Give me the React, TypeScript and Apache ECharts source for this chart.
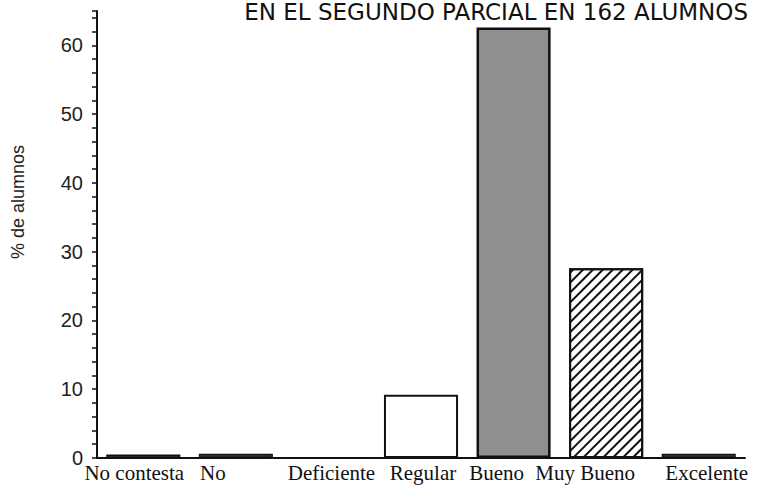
import React, { useEffect, useRef } from "react";
import * as echarts from "echarts";

const categories = ["No contesta", "No", "Deficiente", "Regular", "Bueno", "Muy Bueno", "Excelente"];
const values = [0.5, 0.6, 0, 9.2, 62.6, 27.6, 0.6];
const titleText = "EN EL SEGUNDO PARCIAL EN 162 ALUMNOS";
const yName = "% de alumnos";

// label horizontal shift (px, negative = left) to mimic the original placement
const labelShift = [-9, -23, 3, 2, -17, -21, 8];

const small = { color: "#3a3a3a", borderColor: "#111", borderWidth: 1.5 };
const barStyles = [
  small,
  small,
  small,
  { color: "#ffffff", borderColor: "#111", borderWidth: 2 },
  { color: "#8f8f8f", borderColor: "#111", borderWidth: 2.5 },
  {
    color: "#ffffff",
    borderColor: "#111",
    borderWidth: 2,
    decal: {
      symbol: "rect",
      symbolSize: 1,
      dashArrayX: [1, 0],
      dashArrayY: [2, 5],
      rotation: -Math.PI / 4,
      color: "#111",
      backgroundColor: "#ffffff",
    },
  },
  small,
];

export default function App() {
  const ref = useRef<HTMLDivElement>(null);
  useEffect(() => {
    if (!ref.current) return;
    const chart = echarts.init(ref.current, undefined, { renderer: "svg" });
    chart.setOption({
      animation: false,
      backgroundColor: "#ffffff",
      title: {
        text: titleText,
        right: 18,
        top: 0,
        padding: 0,
        textStyle: { fontSize: 23, lineHeight: 24, fontWeight: "normal", fontFamily: "DejaVu Sans", color: "#111" },
      },
      graphic: [
        {
          type: "text",
          x: 18,
          y: 202,
          rotation: Math.PI / 2,
          style: {
            text: yName,
            fontSize: 18,
            fontFamily: "Liberation Sans",
            fill: "#222",
            align: "center",
            verticalAlign: "middle",
          },
        },
      ],
      grid: { left: 97, right: 21, top: 11, bottom: 29 },
      xAxis: {
        type: "category",
        data: categories.map((c, i) => ({
          value: c,
          textStyle: {
            padding: labelShift[i] < 0 ? [0, -2 * labelShift[i], 0, 0] : [0, 0, 0, 2 * labelShift[i]],
          },
        })),
        axisLine: { show: true, lineStyle: { color: "#111", width: 2 } },
        axisTick: { show: false },
        axisLabel: {
          interval: 0,
          margin: 4,
          fontSize: 21,
          fontFamily: "Liberation Serif",
          color: "#111",
        },
      },
      yAxis: {
        type: "value",
        min: 0,
        max: 65,
        interval: 2,
        splitLine: { show: false },
        axisLine: { show: true, lineStyle: { color: "#111", width: 2 } },
        axisTick: { show: true, inside: false, length: 5, lineStyle: { color: "#111", width: 1.5 } },
        axisLabel: {
          margin: 14,
          fontSize: 20,
          fontFamily: "Liberation Sans",
          color: "#222",
          formatter: (v: number) => (v % 10 === 0 ? String(v) : ""),
        },
      },
      series: [
        {
          type: "bar",
          barWidth: "80%",
          data: values.map((v, i) => ({ value: v, itemStyle: barStyles[i] })),
        },
      ],
    });
    return () => chart.dispose();
  }, []);
  return <div ref={ref} style={{ width: 766, height: 487, position: "absolute", left: 0, top: 0 }} />;
}
